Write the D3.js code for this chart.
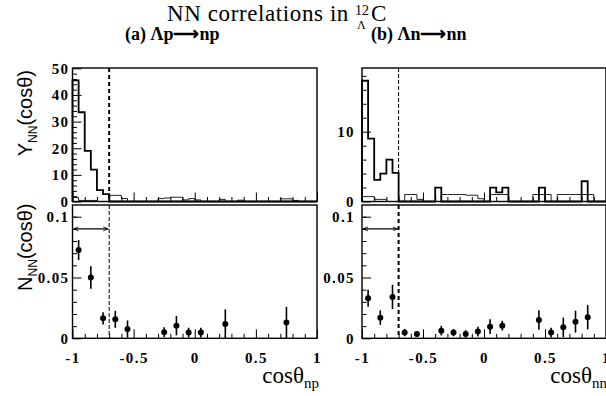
<!DOCTYPE html>
<html>
<head>
<meta charset="utf-8">
<script src="https://cdn.jsdelivr.net/npm/d3@7"></script>
<style>
body { margin: 0; background: #fff; }
svg { display: block; }
.tick text { font-family: "Liberation Serif", serif; font-weight: bold; font-size: 15px; letter-spacing: 1.4px; fill: #000; }
</style>
</head>
<body>
<div class="container"></div>
<script>
const WIDTH = 606,
    HEIGHT = 396,
    CUT = -0.7,
    ARROW_Y = 0.09,
    BIN_W = 0.05;

// Y_NN(cos) yields, 40 bins of 0.05 from -1 to 1
const yieldApThick = [45.5, 33.5, 19, 12, 4.3, 2.8, 0, 0, 0, 0,
    0, 0, 0, 0, 0, 0, 0, 0, 0, 0,
    0, 0, 0, 0, 0, 0, 0, 0, 0, 0,
    0, 0, 0, 0, 0, 0, 0, 0, 0, 0];
const yieldApThin = [1.5, 0.4, 0.4, 0.4, 0, 0, 2.3, 2.3, 1.1, 0,
    0, 0, 0, 0, 1.1, 1.3, 1.6, 1.6, 0.6, 1.1,
    0.6, 0, 0, 0, 0.8, 0, 0, 0.5, 0, 0,
    0, 0, 0, 0, 1.0, 1.0, 0.4, 0, 0, 0];
const yieldAnThick = [17.3, 9.0, 3.1, 4.0, 6.0, 4.1, 0, 0, 0, 0,
    0, 0, 2.0, 0, 0, 0, 0, 0, 0, 0,
    0, 2.0, 1.3, 2.0, 0, 0, 0, 0, 0, 2.0,
    0, 0, 0, 0, 0, 0, 2.9, 0, 0, 0];
const yieldAnThin = [0.7, 0.7, 0.3, 0.3, 0, 0, 0, 1.0, 1.0, 0.3,
    0, 0, 0, 1.0, 1.0, 1.0, 1.0, 0.9, 0.9, 0.4,
    0, 1.0, 1.0, 1.0, 0, 0, 0, 0, 1.0, 1.0,
    1.0, 0, 1.0, 1.0, 1.0, 1.0, 1.0, 1.0, 0, 0];

// N_NN(cos) points with errors
const cosAp = [-0.95, -0.85, -0.75, -0.65, -0.55, -0.25, -0.15, -0.05, 0.05, 0.25, 0.75];
const nAp = [0.0726, 0.050, 0.0164, 0.0156, 0.0077, 0.005, 0.0104, 0.0047, 0.0047, 0.0118, 0.0129];
const errAp = [0.0082, 0.0093, 0.005, 0.007, 0.007, 0.004, 0.008, 0.004, 0.004, 0.012, 0.013];

const cosAn = [-0.95, -0.85, -0.75, -0.65, -0.55, -0.35, -0.25, -0.15, -0.05, 0.05, 0.15, 0.45, 0.55, 0.65, 0.75, 0.85];
const nAn = [0.0329, 0.017, 0.034, 0.0047, 0.0036, 0.0063, 0.0047, 0.0036, 0.0055, 0.0096, 0.0104, 0.0151, 0.0047, 0.009, 0.0137, 0.0173];
const errAn = [0.007, 0.006, 0.010, 0.003, 0.002, 0.004, 0.003, 0.003, 0.004, 0.006, 0.004, 0.008, 0.004, 0.008, 0.009, 0.010];

// tick values
const xMajor = [-1, -0.5, 0, 0.5, 1];
const xMinor = [-0.9, -0.8, -0.7, -0.6, -0.4, -0.3, -0.2, -0.1, 0.1, 0.2, 0.3, 0.4, 0.6, 0.7, 0.8, 0.9];
const yMajorApTop = [0, 10, 20, 30, 40, 50];
const yMajorAnTop = [0, 10];
const yMinorTop = [2, 4, 6, 8, 12, 14, 16, 18, 22, 24, 26, 28, 32, 34, 36, 38, 42, 44, 46, 48];
const yMajorBot = [0, 0.05, 0.1];
const yMinorBot = [0.01, 0.02, 0.03, 0.04, 0.06, 0.07, 0.08, 0.09, 0.1];

const LEFT = [72.5, 317], RIGHT = [362, 606];
const TOP = [201.5, 68], BOT = [338.3, 205];
const SERIF = '"Liberation Serif", "Times New Roman", serif';

const svg = d3.select('.container').append('svg')
    .attr('width', WIDTH)
    .attr('height', HEIGHT);

svg.append('defs').append('marker')
    .attr('id', 'head')
    .attr('viewBox', '0 0 10 10')
    .attr('refX', 10).attr('refY', 5)
    .attr('markerUnits', 'userSpaceOnUse')
    .attr('markerWidth', 5).attr('markerHeight', 6)
    .attr('orient', 'auto-start-reverse')
    .append('path')
    .attr('d', 'M0,1 L10,5 L0,9')
    .attr('fill', 'none')
    .attr('stroke', '#000')
    .attr('stroke-width', 1.6);

var histPoints = (vals, x, y) => {
    var pts = [[x(-1), y(0)]];
    vals.forEach((v, i) => {
        var a = -1 + i * BIN_W;
        pts.push([x(a), y(v)], [x(a + BIN_W), y(v)]);
    });
    pts.push([x(1), y(0)]);
    return pts;
};

var fmt = (d) => String(d);

var drawFrame = (g, x, y, rows, opts) => {
    var [xr0, xr1] = x.range();
    var [yb, yt] = rows;
    // x ticks, pointing inward from the bottom edge
    g.append('g')
        .attr('transform', `translate(0,${yb})`)
        .call(d3.axisBottom(x).tickValues(xMinor).tickSize(-4.5).tickFormat(''))
        .call(a => a.select('.domain').remove());
    g.append('g')
        .attr('transform', `translate(0,${yb})`)
        .call(d3.axisBottom(x).tickValues(xMajor).tickSize(-9).tickPadding(14)
            .tickFormat(opts.xLabels ? fmt : ''))
        .call(a => a.select('.domain').remove());
    // y ticks, pointing inward from the left edge
    g.append('g')
        .attr('transform', `translate(${xr0},0)`)
        .call(d3.axisLeft(y).tickValues(opts.yMinor).tickSize(-4.5).tickFormat(''))
        .call(a => a.select('.domain').remove());
    g.append('g')
        .attr('transform', `translate(${xr0},0)`)
        .call(d3.axisLeft(y).tickValues(opts.yMajor).tickSize(-9).tickPadding(opts.pad).tickFormat(fmt))
        .call(a => a.select('.domain').remove());
    g.selectAll('.tick line').attr('stroke', '#000').attr('stroke-width', 1);
    g.append('rect')
        .attr('x', xr0).attr('y', yt)
        .attr('width', xr1 - xr0).attr('height', yb - yt)
        .attr('fill', 'none')
        .attr('stroke', '#000')
        .attr('stroke-width', 1.4);
};

var addHistPanel = (xr, yDomain, yTop, thick, thin, opts) => {
    var x = d3.scaleLinear().domain([-1, 1]).range(xr);
    var y = d3.scaleLinear().domain(yDomain).range([TOP[0], yTop]);
    var g = svg.append('g');
    var line = d3.line();
    g.append('path').attr('d', line(histPoints(thin, x, y)))
        .attr('fill', 'none').attr('stroke', '#222').attr('stroke-width', 1);
    g.append('path').attr('d', line(histPoints(thick, x, y)))
        .attr('fill', 'none').attr('stroke', '#000').attr('stroke-width', 1.8);
    g.append('line')
        .attr('x1', x(CUT)).attr('x2', x(CUT))
        .attr('y1', TOP[1]).attr('y2', TOP[0])
        .attr('stroke', '#000')
        .attr('stroke-width', opts.dashW)
        .attr('stroke-dasharray', opts.dashW > 1.5 ? '4,3' : '4,2');
    drawFrame(g, x, y, TOP, opts);
};

var addPointPanel = (xr, cs, ns, es, opts) => {
    var x = d3.scaleLinear().domain([-1, 1]).range(xr);
    var y = d3.scaleLinear().domain([0, 0.1]).range([BOT[0], 216.7]);
    var g = svg.append('g');
    g.append('line')
        .attr('x1', x(CUT)).attr('x2', x(CUT))
        .attr('y1', BOT[1]).attr('y2', BOT[0])
        .attr('stroke', '#000')
        .attr('stroke-width', opts.dashW)
        .attr('stroke-dasharray', opts.dashW > 1.5 ? '4,3' : '4,2');
    g.append('line')
        .attr('x1', x(-1) + 1).attr('x2', x(CUT) - 1)
        .attr('y1', y(ARROW_Y)).attr('y2', y(ARROW_Y))
        .attr('stroke', '#000').attr('stroke-width', 1.2)
        .attr('marker-start', 'url(#head)')
        .attr('marker-end', 'url(#head)');
    var pts = cs.map((c, i) => ({ c: c, n: ns[i], e: es[i] }));
    g.selectAll('.err').data(pts).enter().append('line')
        .attr('x1', d => x(d.c)).attr('x2', d => x(d.c))
        .attr('y1', d => y(Math.max(0, d.n - d.e))).attr('y2', d => y(d.n + d.e))
        .attr('stroke', '#000').attr('stroke-width', 1.6);
    g.selectAll('.pt').data(pts).enter().append('circle')
        .attr('cx', d => x(d.c)).attr('cy', d => y(d.n))
        .attr('r', 3).attr('fill', '#000');
    drawFrame(g, x, y, BOT, opts);
};

addHistPanel(LEFT, [0, 50], 68.3, yieldApThick, yieldApThin,
    { yMajor: yMajorApTop, yMinor: yMinorTop, pad: 3, dashW: 2, xLabels: false });
addHistPanel(RIGHT, [0, 10], 131.7, yieldAnThick, yieldAnThin,
    { yMajor: yMajorAnTop, yMinor: yMinorTop.filter(v => v < 19), pad: 7, dashW: 1, xLabels: false });
addPointPanel(LEFT, cosAp, nAp, errAp,
    { yMajor: yMajorBot, yMinor: yMinorBot, pad: 3, dashW: 1, xLabels: true });
addPointPanel(RIGHT, cosAn, nAn, errAn,
    { yMajor: yMajorBot, yMinor: yMinorBot, pad: 7, dashW: 2, xLabels: true });

// titles
var title = svg.append('text')
    .attr('x', 167).attr('y', 21)
    .style('font-family', SERIF).style('font-size', '23px')
    .style('letter-spacing', '0.6px')
    .text('NN correlations in');
var tw = title.node().getComputedTextLength();
svg.append('text').attr('x', 167 + tw + 6).attr('y', 15)
    .style('font-family', SERIF).style('font-size', '14px').text('12');
svg.append('text').attr('x', 167 + tw + 8).attr('y', 29)
    .style('font-family', SERIF).style('font-size', '12px').text('Λ');
svg.append('text').attr('x', 167 + tw + 22).attr('y', 21)
    .style('font-family', SERIF).style('font-size', '23px').text('C');

svg.append('text').attr('x', 125).attr('y', 40)
    .style('font-family', SERIF).style('font-weight', 'bold').style('font-size', '18px')
    .text('(a) Λp⟶np');
svg.append('text').attr('x', 371).attr('y', 40)
    .style('font-family', SERIF).style('font-weight', 'bold').style('font-size', '18px')
    .text('(b) Λn⟶nn');

var yTitle = (ty, letter) => {
    var t = svg.append('text')
        .attr('transform', `translate(31.5,${ty}) rotate(-90)`)
        .attr('text-anchor', 'end')
        .style('font-family', 'Liberation Sans').style('font-size', '20px');
    t.append('tspan').text(letter);
    t.append('tspan').attr('dy', 5).style('font-size', '12px').text('NN');
    t.append('tspan').attr('dy', -5).text('(cosθ)');
};
yTitle(70, 'Y');
yTitle(203.5, 'N');

var xTitle = (tx, sub) => {
    var t = svg.append('text')
        .attr('x', tx).attr('y', 383)
        .attr('text-anchor', 'end')
        .style('font-family', SERIF).style('font-size', '23px');
    t.append('tspan').text('cosθ');
    t.append('tspan').attr('dy', 5).style('font-size', '15px').text(sub);
};
xTitle(319, 'np');
xTitle(607, 'nn');
</script>
</body>
</html>
